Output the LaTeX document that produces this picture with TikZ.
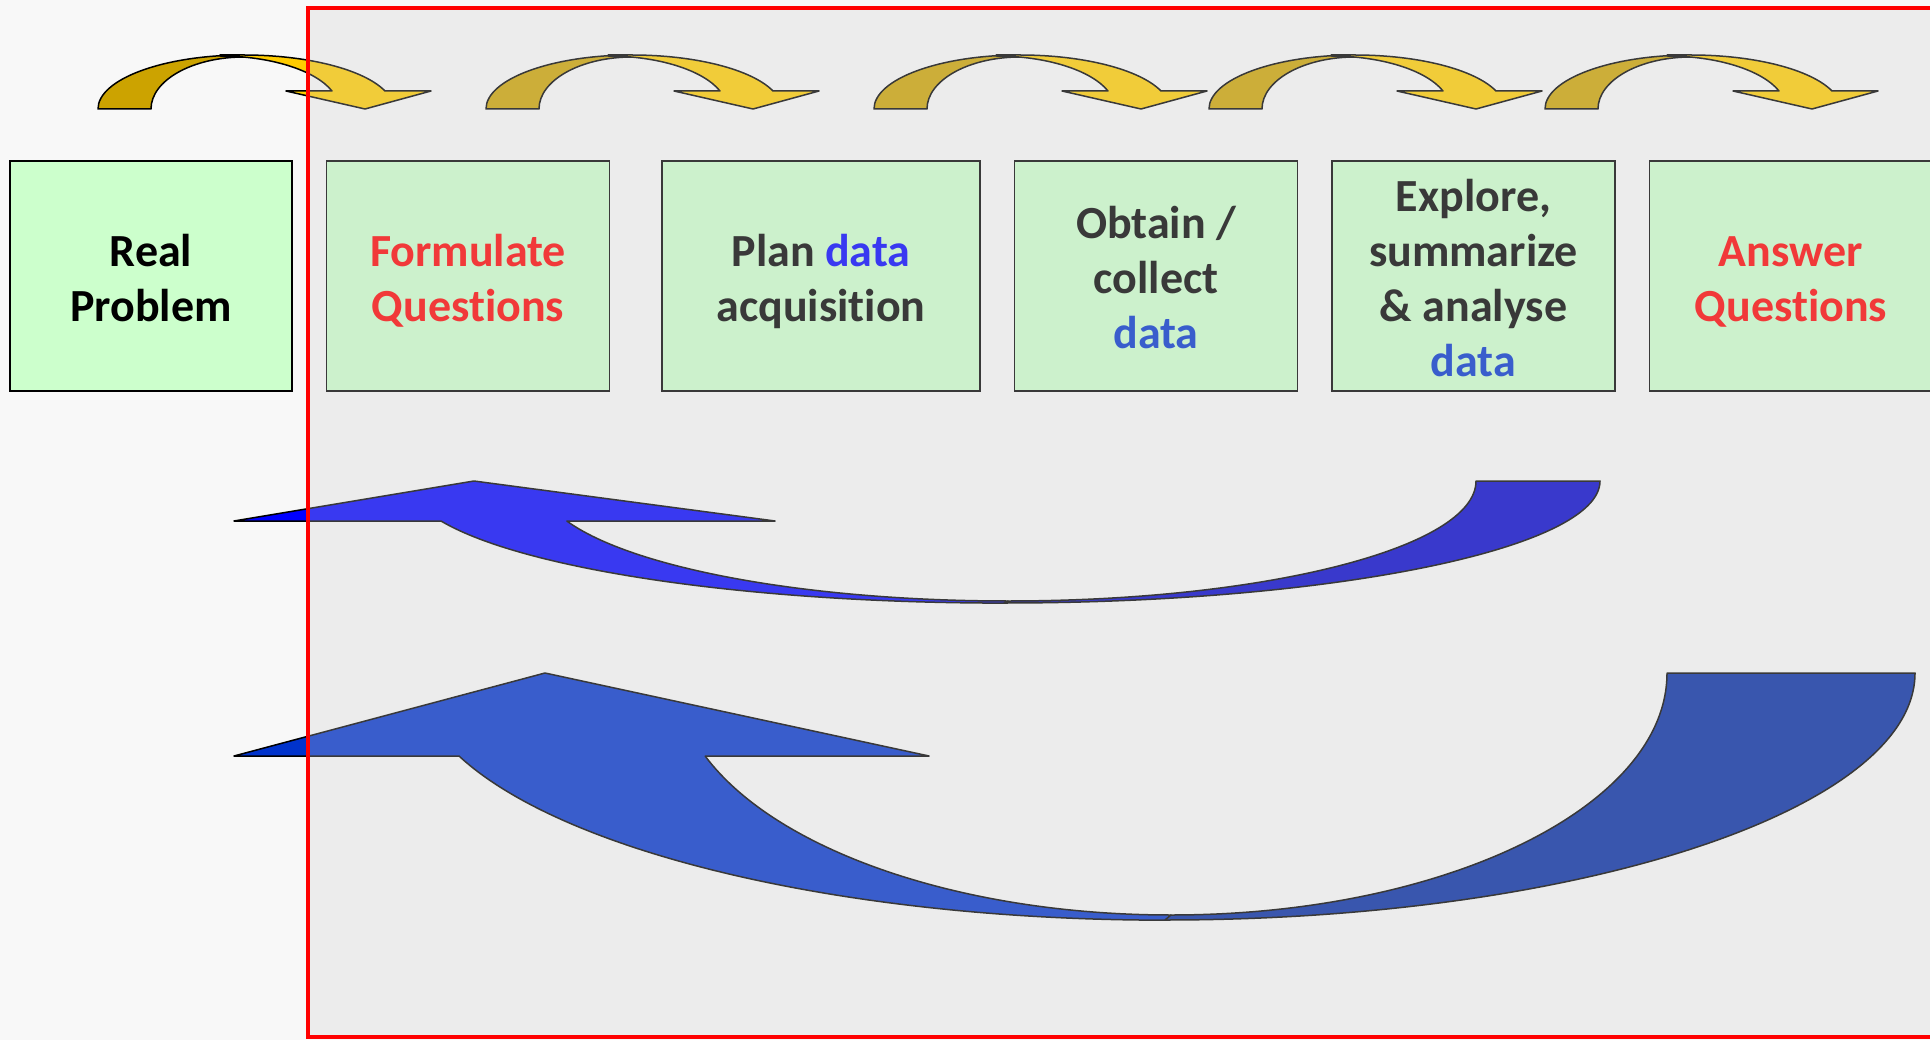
\documentclass[tikz,border=0pt]{standalone}
\usepackage{fontspec}
\setmainfont{Carlito}[Ligatures=NoCommon]
\usepackage{tikz}
\usetikzlibrary{positioning}
\definecolor{fondo}{HTML}{F8F8F8}
\definecolor{verdecaja}{HTML}{CCFFCC}
\definecolor{rojotexto}{HTML}{FF0000}
\definecolor{azulplan}{HTML}{0000FF}
\definecolor{azuldato}{HTML}{0033CC}
\definecolor{oro}{HTML}{FFCC00}
\definecolor{orooscuro}{HTML}{CCA300}
\definecolor{azul1}{HTML}{0000FF}
\definecolor{azul1osc}{HTML}{0000CC}
\definecolor{azul2}{HTML}{0033CC}
\definecolor{azul2osc}{HTML}{0029A3}
\definecolor{velo}{HTML}{CDCDCD}
\definecolor{marcorojo}{HTML}{FF0000}
% puntales para que todas las cajas centren igual
\newcommand{\arr}{\rule{0pt}{47pt}}
\newcommand{\aba}{\rule[-11pt]{0pt}{11pt}}
\tikzset{
  caja/.style={draw=black,fill=verdecaja,line width=1.5pt,minimum width=283pt,minimum height=230pt,inner sep=0pt,align=center,font=\fontsize{46}{55}\selectfont\bfseries},
  oroosc/.style={draw=black,fill=orooscuro,line width=1.5pt,line join=round},
  oroclaro/.style={draw=black,fill=oro,line width=1.5pt,line join=round},
  cabeza1/.style={draw=black,fill=azul1,line width=1.5pt,line join=round},
  cola1/.style={draw=black,fill=azul1osc,line width=1.5pt,line join=round},
  cabeza2/.style={draw=black,fill=azul2,line width=1.5pt,line join=round},
  cola2/.style={draw=black,fill=azul2osc,line width=1.5pt,line join=round},
  marco/.style={draw=marcorojo,line width=4.5pt,fill=velo,fill opacity=0.28},
}
\begin{document}
\begin{tikzpicture}[x=1pt,y=-1pt,node distance=33pt]
\useasboundingbox (0,0) rectangle (1930,1040);
\fill[fondo] (0,0) rectangle (1930,1040);
% flechas amarillas
\begin{scope}[shift={(98,0)}]
\draw[oroosc] (0,109) -- (53,109) .. controls (53,80.3) and (94.6,57) .. (146,57) -- (146,55) .. controls (65.4,55) and (0,79.2) .. (0,109) -- cycle;
\draw[oroclaro] (122,55) -- (146,55) .. controls (209.5,55) and (266,69.5) .. (287,91) -- (333,91) -- (267,109) -- (188,91) -- (234,91) .. controls (217,70) and (172,56) .. (122,56) -- cycle;
\end{scope}
\begin{scope}[shift={(486,0)}]
\draw[oroosc] (0,109) -- (53,109) .. controls (53,80.3) and (94.6,57) .. (146,57) -- (146,55) .. controls (65.4,55) and (0,79.2) .. (0,109) -- cycle;
\draw[oroclaro] (122,55) -- (146,55) .. controls (209.5,55) and (266,69.5) .. (287,91) -- (333,91) -- (267,109) -- (188,91) -- (234,91) .. controls (217,70) and (172,56) .. (122,56) -- cycle;
\end{scope}
\begin{scope}[shift={(874,0)}]
\draw[oroosc] (0,109) -- (53,109) .. controls (53,80.3) and (94.6,57) .. (146,57) -- (146,55) .. controls (65.4,55) and (0,79.2) .. (0,109) -- cycle;
\draw[oroclaro] (122,55) -- (146,55) .. controls (209.5,55) and (266,69.5) .. (287,91) -- (333,91) -- (267,109) -- (188,91) -- (234,91) .. controls (217,70) and (172,56) .. (122,56) -- cycle;
\end{scope}
\begin{scope}[shift={(1209,0)}]
\draw[oroosc] (0,109) -- (53,109) .. controls (53,80.3) and (94.6,57) .. (146,57) -- (146,55) .. controls (65.4,55) and (0,79.2) .. (0,109) -- cycle;
\draw[oroclaro] (122,55) -- (146,55) .. controls (209.5,55) and (266,69.5) .. (287,91) -- (333,91) -- (267,109) -- (188,91) -- (234,91) .. controls (217,70) and (172,56) .. (122,56) -- cycle;
\end{scope}
\begin{scope}[shift={(1545,0)}]
\draw[oroosc] (0,109) -- (53,109) .. controls (53,80.3) and (94.6,57) .. (146,57) -- (146,55) .. controls (65.4,55) and (0,79.2) .. (0,109) -- cycle;
\draw[oroclaro] (122,55) -- (146,55) .. controls (209.5,55) and (266,69.5) .. (287,91) -- (333,91) -- (267,109) -- (188,91) -- (234,91) .. controls (217,70) and (172,56) .. (122,56) -- cycle;
\end{scope}
% etapas
\node[caja,minimum width=282pt] (real) at (151,276) {\arr Real\\Problem\aba};
\node[caja,text=rojotexto,right=of real] (formular) {\arr Formulate\\Questions\aba};
\node[caja,minimum width=318pt,right=51pt of formular] (plan) {\arr Plan \textcolor{azulplan}{data}\\acquisition\aba};
\node[caja,right=of plan] (obtener) {\arr Obtain /\\collect\\\textcolor{azuldato}{data}\aba};
\node[caja,right=of obtener] (explorar) {\arr Explore,\\summarize\\\& analyse\\\textcolor{azuldato}{data}\aba};
\node[caja,text=rojotexto,right=of explorar] (responder) {\arr Answer\\Questions\aba};
% flechas azules de vuelta
\draw[cabeza1] (234,521) -- (441,521) arc[start angle=160.9,end angle=90,x radius=596,y radius=122] -- (1008,601) arc[start angle=90,end angle=160.5,x radius=468,y radius=120] -- (775,521) -- (474,481) -- cycle;
\draw[cola1] (1004,603) arc[start angle=90,end angle=0,x radius=596,y radius=122] -- (1476,481) arc[start angle=0,end angle=90,x radius=468,y radius=120] -- cycle;
\draw[cabeza2] (234,756) -- (459,756) arc[start angle=160.4,end angle=90,x radius=750,y radius=247] -- (1171,915) arc[start angle=90,end angle=159.9,x radius=496,y radius=242] -- (929,756) -- (545,673) -- cycle;
\draw[cola2] (1165,920) arc[start angle=90,end angle=0,x radius=750,y radius=247] -- (1667,673) arc[start angle=0,end angle=90,x radius=496,y radius=242] -- cycle;
% velo gris con marco rojo
\draw[marco] (308,8) rectangle (1960,1037);
\end{tikzpicture}
\end{document}
